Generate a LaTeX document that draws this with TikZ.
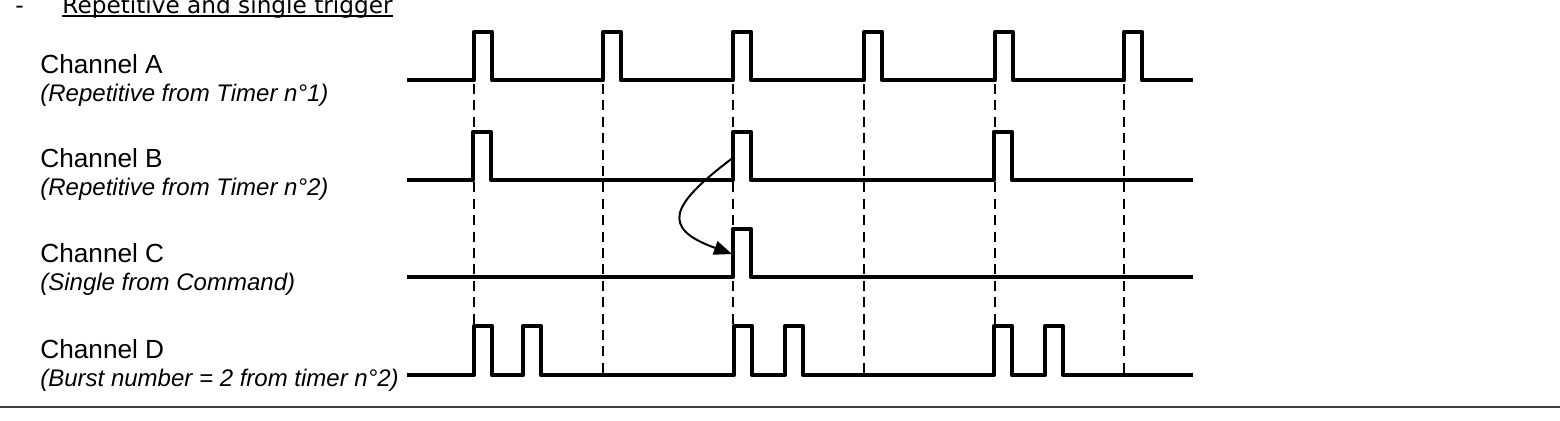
\documentclass[tikz,border=0pt]{standalone}
\usepackage{fontspec}
\setmainfont{Liberation Sans}
\newfontfamily\headfont{DejaVu Sans}
\usetikzlibrary{arrows.meta}

\begin{document}
\begin{tikzpicture}[x=0.5pt,y=-0.5pt,
		signal/.style={line width=2.1pt,line join=round},
		sync/.style={line width=1pt,dash pattern=on 5pt off 3.2pt},
		chan/.style={anchor=base west,inner sep=0pt,font=\fontsize{13.1}{15}\selectfont},
		source/.style={anchor=base west,inner sep=0pt,font=\fontsize{12}{14}\selectfont\itshape}]
	\clip (0,0) rectangle (1560,420); % page crop
	
	% heading
	\node[anchor=base west,inner sep=0pt,font=\headfont\fontsize{11.6}{13}\selectfont] (bullet) at (15,13) {-};
	\node[anchor=base west,inner sep=0pt,font=\headfont\fontsize{11.6}{13}\selectfont] (title) at (62,13) {Repetitive and single trigger};
	\draw [line width=0.8pt] ([yshift=-1.5pt]title.base west) -- ([yshift=-1.5pt]title.base east);
	
	% labels
	\node[chan] (nameA) at (40,73) {Channel A};
	\node[source] (srcA) at (40,101) {(Repetitive from Timer n°1)};
	\node[chan] (nameB) at (40,167) {Channel B};
	\node[source] (srcB) at (40,195) {(Repetitive from Timer n°2)};
	\node[chan] (nameC) at (40,262) {Channel C};
	\node[source] (srcC) at (40,290) {(Single from Command)};
	\node[chan] (nameD) at (40,358) {Channel D};
	\node[source] (srcD) at (40,386) {(Burst number = 2 from timer n°2)};
	
	% timer ticks
	\foreach \t in {474,603,733,864,995,1124}{% one dashed line per tick
		\coordinate (top\t) at (\t,84);
		\coordinate (bot\t) at (\t,375);
		\draw [sync] (top\t) -- (bot\t);
	}
	
	% channels
	\coordinate (Astart) at (407,80);
	\coordinate (Bstart) at (407,180);
	\coordinate (Cstart) at (407,277);
	\coordinate (Dstart) at (407,375);
	
	\draw [signal] (Astart)
	\foreach \p in {474,603,733,864,995,1124}{ -- (\p,80) -- ++(0,-48) -- ++(18,0) -- ++(0,48) }
	-- (1193,80);
	
	\draw [signal] (Bstart)
	\foreach \p in {473,733,994}{ -- (\p,180) -- ++(0,-48) -- ++(18,0) -- ++(0,48) }
	-- (1193,180);
	
	\draw [signal] (Cstart)
	\foreach \p in {733}{ -- (\p,277) -- ++(0,-48) -- ++(18,0) -- ++(0,48) }
	-- (1193,277);
	
	\draw [signal] (Dstart)
	\foreach \p in {474,523,734,785,994,1045}{ -- (\p,375) -- ++(0,-49) -- ++(18,0) -- ++(0,49) }
	-- (1193,375);
	
	% command trigger
	\coordinate (Bedge) at (734,157);
	\coordinate (Cedge) at (732,254);
	\draw [line width=1pt,-{Triangle[length=9pt,width=7pt]}] (Bedge)
	.. controls (670,205) and (660,228) .. (Cedge);
	
	% footer rule
	\draw [line width=0.8pt,black!75] (0,407) -- (1560,407);
	
\end{tikzpicture}
\end{document}
